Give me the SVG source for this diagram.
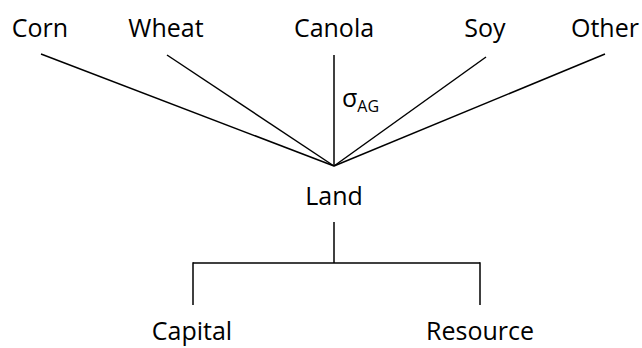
<svg xmlns="http://www.w3.org/2000/svg" width="642" height="348" viewBox="0 0 642 348">
<style>
.t{font-family:"Open Sans","Liberation Sans",sans-serif;font-size:25px;fill:#000;text-anchor:middle}
.s{font-family:"Open Sans","Liberation Sans",sans-serif;fill:#000}
.c line{stroke:#000;stroke-width:1.5;fill:none}
</style>
<rect width="642" height="348" fill="#fff"/>
<g id="connectors" class="c">
<line x1="41" y1="54" x2="334" y2="166"/>
<line x1="167" y1="55" x2="334" y2="166"/>
<line x1="334" y1="55" x2="334" y2="166"/>
<line x1="486" y1="57" x2="334" y2="166"/>
<line x1="605" y1="54" x2="334" y2="166"/>
<line x1="334" y1="222" x2="334" y2="263"/>
<line x1="193" y1="263" x2="480" y2="263"/>
<line x1="193" y1="262.25" x2="193" y2="305"/>
<line x1="480" y1="262.25" x2="480" y2="305"/>
</g>
<g id="corn"><text class="t" x="40" y="37">Corn</text></g>
<g id="wheat"><text class="t" x="166" y="37">Wheat</text></g>
<g id="canola"><text class="t" x="334" y="37">Canola</text></g>
<g id="soy"><text class="t" x="485" y="37">Soy</text></g>
<g id="other"><text class="t" x="605" y="37">Other</text></g>
<g id="sigma"><text class="s" x="342" y="107" font-size="25">σ<tspan font-size="16" dy="5">AG</tspan></text></g>
<g id="land"><text class="t" x="334" y="205">Land</text></g>
<g id="capital"><text class="t" x="192" y="340">Capital</text></g>
<g id="resource"><text class="t" x="480" y="340">Resource</text></g>
</svg>
